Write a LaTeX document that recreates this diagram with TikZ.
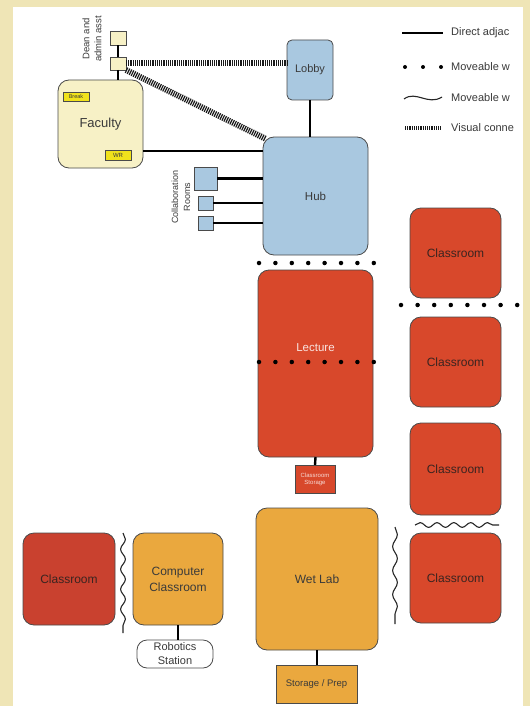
\documentclass[tikz,border=0pt]{standalone}
\usepackage{fontspec}
\setmainfont{Liberation Sans}
\usetikzlibrary{decorations.pathmorphing,calc}
\definecolor{beige}{HTML}{EFE5B6}
\definecolor{cream}{HTML}{F7F1C6}
\definecolor{tagyel}{HTML}{F0E21C}
\definecolor{lblue}{HTML}{A9C8E0}
\definecolor{rred}{HTML}{D8482B}
\definecolor{dred}{HTML}{C9412F}
\definecolor{orng}{HTML}{EAA83E}
\definecolor{edgec}{HTML}{4A4A4A}
\definecolor{txt}{HTML}{3A3A3A}
\definecolor{rtxt}{HTML}{3A2420}
\tikzset{
  box/.style={draw=edgec, line width=0.8pt, inner sep=0pt, outer sep=0pt, align=center, text=txt},
  room/.style={box, rounded corners=11pt},
  sz/.style 2 args={minimum width=#1pt, minimum height=#2pt},
  adj/.style={line width=2.4pt, black},
  hatch/.style={line width=6pt, dash pattern=on 1.2pt off 1pt, black!90},
  dotwall/.style={line width=4.5pt, dash pattern=on 0pt off #1, line cap=round, black},
  wave/.style={decorate, decoration={snake, segment length=#1, amplitude=2.4pt}, line width=1.1pt, black!85},
  lbl/.style={anchor=west, inner sep=0pt, text=txt, font=\fontsize{11}{13}\selectfont},
  big/.style={font=\fontsize{12}{13}\selectfont},
}
\begin{document}
\begin{tikzpicture}[x=1pt,y=-1pt]
\useasboundingbox (0,0) rectangle (530,706);
\fill[beige] (0,0) rectangle (530,706);
\fill[white] (13,7) rectangle (523,706);

% nodes
\node[box, fill=cream, sz={16}{14}] (dean1) at (118,38.5) {};
\node[box, fill=cream, sz={16}{13}] (dean2) at (118,63.5) {};
\node[text=txt, rotate=90, align=center, inner sep=0pt, font=\fontsize{9.5}{12}\selectfont] (deantxt) at (92,39) {Dean and\\admin asst};
\node[room, fill=cream, sz={85}{88}, font=\fontsize{13}{14}\selectfont] (fac) at (100.5,124) {Faculty};
\node[box, fill=tagyel, sz={26}{9}, font=\fontsize{5.5}{6}\selectfont] (brk) at (76,96.5) {Break};
\node[box, fill=tagyel, sz={26}{10}, font=\fontsize{6}{7}\selectfont] (wr) at (118,155) {WR};

\node[box, rounded corners=5pt, fill=lblue, sz={46}{60}, font=\fontsize{11}{12}\selectfont] (lobby) at (310,70) {Lobby};
\node[room, fill=lblue, sz={105}{118}, font=\fontsize{11.5}{13}\selectfont] (hub) at (315.5,196) {Hub};
\node[box, fill=lblue, sz={23}{23}] (col1) at (205.5,178.5) {};
\node[box, fill=lblue, sz={15}{14}] (col2) at (205.5,203) {};
\node[box, fill=lblue, sz={15}{14}] (col3) at (205.5,223) {};
\node[text=txt, rotate=90, align=center, inner sep=0pt, font=\fontsize{9}{12}\selectfont] (coltxt) at (181,197) {Collaboration\\Rooms};

\node[room, fill=rred, sz={115}{187}] (lect) at (315.5,363.5) {};
\node[text=white!85!rred, inner sep=0pt, font=\fontsize{11.5}{13}\selectfont] (lecttxt) at (315.5,348) {Lecture};
\node[box, fill=rred, sz={40}{28}, text=white!80!rred, font=\fontsize{6}{7}\selectfont] (cstor) at (315,479) {Classroom\\Storage};

\node[room, fill=rred, sz={91}{90}, text=rtxt, big] (c1) at (455.5,253) {Classroom};
\node[room, fill=rred, sz={91}{90}, text=rtxt, big] (c2) at (455.5,362) {Classroom};
\node[room, fill=rred, sz={91}{92}, text=rtxt, big] (c3) at (455.5,469) {Classroom};
\node[room, fill=rred, sz={91}{90}, text=rtxt, big] (c4) at (455.5,578) {Classroom};

\node[room, fill=orng, sz={122}{142}, big] (wet) at (317,579) {Wet Lab};
\node[box, fill=orng, sz={81}{38}, font=\fontsize{9.5}{11}\selectfont] (sp) at (316.5,684) {Storage / Prep};

\node[room, fill=dred, sz={92}{92}, text=rtxt, big] (cl) at (69,579) {Classroom};
\node[room, fill=orng, sz={90}{92}, font=\fontsize{12}{16}\selectfont] (cc) at (178,579) {Computer\\Classroom};
\node[box, rounded corners=10pt, fill=white, sz={76}{28}, font=\fontsize{11}{14}\selectfont] (rob) at (175,654) {Robotics\\Station};

% direct adjacencies
\draw[adj] (dean1.south) -- (dean2.north);
\draw[adj] (dean2.south) -- (dean2.south |- fac.north);
\draw[adj] (lobby.south) -- (lobby.south |- hub.north);
\draw[adj] (fac.east |- 0,151) -- (hub.west |- 0,151);
\draw[adj] (col1.east) -- (col1.east -| hub.west);
\draw[adj] (col2.east) -- (col2.east -| hub.west);
\draw[adj] (col3.east) -- (col3.east -| hub.west);
\draw[adj] (lect.south) -- (cstor.north);
\draw[adj] (wet.south) -- (wet.south |- sp.north);
\draw[adj] (cc.south) -- (cc.south |- rob.north);

% visual connections
\draw[hatch] (dean2.east) -- (dean2.east -| lobby.west);
\draw[hatch] (dean2.south east) -- ($(hub.north west)+(3,2)$);

% moveable walls (dots)
\coordinate (dA1) at (259,263); \coordinate (dA2) at (374,263);
\coordinate (dB1) at (259,362); \coordinate (dB2) at (374,362);
\coordinate (dC1) at (401,305); \coordinate (dC2) at (518,305);
\draw[dotwall=16.4pt] (dA1) -- (dA2);
\draw[dotwall=16.4pt] (dB1) -- (dB2);
\draw[dotwall=16.6pt] (dC1) -- (dC2);

% moveable walls (wavy)
\coordinate (wA1) at (415,525); \coordinate (wA2) at (499,525);
\coordinate (wB1) at (395,527); \coordinate (wB2) at (395,624);
\coordinate (wC1) at (123,533); \coordinate (wC2) at (123,633);
\draw[wave=16.8pt] (wA1) -- (wA2);
\draw[wave=24pt] (wB1) -- (wB2);
\draw[wave=20pt] (wC1) -- (wC2);

% legend
\begin{scope}
\clip (13,7) rectangle (523,706);
\coordinate (lg1a) at (402,33); \coordinate (lg1b) at (443,33);
\draw[adj] (lg1a) -- (lg1b);
\coordinate (lg2a) at (405,67); \coordinate (lg2b) at (442,67);
\draw[dotwall=18pt, line width=4pt] (lg2a) -- (lg2b);
\coordinate (lg3a) at (404,99); \coordinate (lg3b) at (442,97);
\draw[line width=1.1pt, black!85] (lg3a) .. controls (416,90) and (428,106) .. (lg3b);
\coordinate (lg4a) at (405,128); \coordinate (lg4b) at (441,128);
\draw[hatch, line width=4.5pt] (lg4a) -- (lg4b);
\node[lbl] (t1) at (451,33) {Direct adjac};
\node[lbl] (t2) at (451,67) {Moveable w};
\node[lbl] (t3) at (451,98) {Moveable w};
\node[lbl] (t4) at (451,128) {Visual conne};
\end{scope}
\end{tikzpicture}
\end{document}
